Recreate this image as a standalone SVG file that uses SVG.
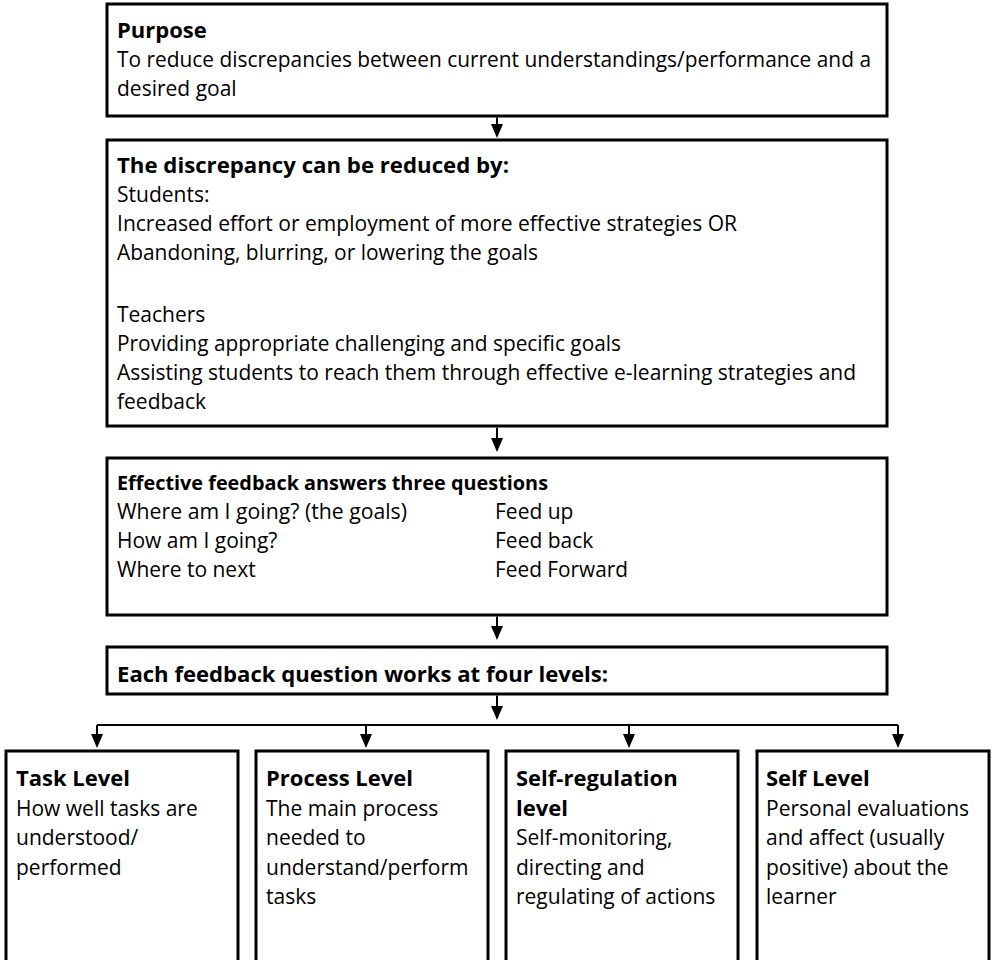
<svg xmlns="http://www.w3.org/2000/svg" width="992" height="960" viewBox="0 0 992 960">
<style>
.box{fill:#fff;stroke:#000;stroke-width:3}
.t{font-family:"Open Sans","Noto Sans",sans-serif;font-size:21px;fill:#000}
.b{font-weight:bold;font-size:22px}
.c{stroke:#000;stroke-width:2;fill:none}
.h{fill:#000}
</style>
<defs>
<polygon id="ah" points="-6,-14 6,-14 0,0"/>
</defs>
<rect width="992" height="960" fill="#fff"/>
<g id="purpose">
<rect class="box" x="107" y="4" width="780" height="112"/>
<text class="t b" x="117" y="38">Purpose</text>
<text class="t" x="117" y="67" textLength="754" lengthAdjust="spacingAndGlyphs">To reduce discrepancies between current understandings/performance and a</text>
<text class="t" x="117" y="96">desired goal</text>
</g>
<g id="discrepancy">
<rect class="box" x="107" y="140" width="780" height="286"/>
<text class="t b" x="117" y="173" textLength="392" lengthAdjust="spacingAndGlyphs">The discrepancy can be reduced by:</text>
<text class="t" x="117" y="202">Students:</text>
<text class="t" x="117" y="231" textLength="620" lengthAdjust="spacingAndGlyphs">Increased effort or employment of more effective strategies OR</text>
<text class="t" x="117" y="260" textLength="421" lengthAdjust="spacingAndGlyphs">Abandoning, blurring, or lowering the goals</text>
<text class="t" x="117" y="322">Teachers</text>
<text class="t" x="117" y="351" textLength="504" lengthAdjust="spacingAndGlyphs">Providing appropriate challenging and specific goals</text>
<text class="t" x="117" y="380" textLength="739" lengthAdjust="spacingAndGlyphs">Assisting students to reach them through effective e-learning strategies and</text>
<text class="t" x="117" y="409">feedback</text>
</g>
<g id="questions">
<rect class="box" x="107" y="458" width="780" height="157"/>
<text class="t b" x="117" y="490" style="font-size:20px" textLength="431" lengthAdjust="spacingAndGlyphs">Effective feedback answers three questions</text>
<text class="t" x="117" y="519" textLength="290" lengthAdjust="spacingAndGlyphs">Where am I going? (the goals)</text>
<text class="t" x="117" y="548">How am I going?</text>
<text class="t" x="117" y="577">Where to next</text>
<text class="t" x="495" y="519">Feed up</text>
<text class="t" x="495" y="548">Feed back</text>
<text class="t" x="495" y="577" textLength="133" lengthAdjust="spacingAndGlyphs">Feed Forward</text>
</g>
<g id="levels">
<rect class="box" x="107" y="647" width="780" height="47"/>
<text class="t b" x="117" y="682" textLength="491" lengthAdjust="spacingAndGlyphs">Each feedback question works at four levels:</text>
</g>
<g id="task">
<rect class="box" x="6" y="751" width="232" height="220"/>
<text class="t b" x="16" y="786">Task Level</text>
<text class="t" x="16" y="815.5">How well tasks are</text>
<text class="t" x="16" y="845">understood/</text>
<text class="t" x="16" y="874.5">performed</text>
</g>
<g id="process">
<rect class="box" x="256" y="751" width="232" height="220"/>
<text class="t b" x="266" y="786">Process Level</text>
<text class="t" x="266" y="815.5">The main process</text>
<text class="t" x="266" y="845">needed to</text>
<text class="t" x="266" y="874.5">understand/perform</text>
<text class="t" x="266" y="904">tasks</text>
</g>
<g id="selfreg">
<rect class="box" x="506" y="751" width="232" height="220"/>
<text class="t b" x="516" y="786">Self-regulation</text>
<text class="t b" x="516" y="815.5">level</text>
<text class="t" x="516" y="845">Self-monitoring,</text>
<text class="t" x="516" y="874.5">directing and</text>
<text class="t" x="516" y="904">regulating of actions</text>
</g>
<g id="self">
<rect class="box" x="757" y="751" width="232" height="220"/>
<text class="t b" x="766" y="786">Self Level</text>
<text class="t" x="766" y="815.5">Personal evaluations</text>
<text class="t" x="766" y="845">and affect (usually</text>
<text class="t" x="766" y="874.5">positive) about the</text>
<text class="t" x="766" y="904">learner</text>
</g>
<g id="connectors">
<path class="c" d="M497,117.5V126 M497,427.5V438 M497,616.5V626 M497,695.5V706 M97,725H898 M97,725V735 M366,725V735 M629,725V735 M898,725V735"/>
<use href="#ah" class="h" x="497" y="138"/>
<use href="#ah" class="h" x="497" y="452"/>
<use href="#ah" class="h" x="497" y="640"/>
<use href="#ah" class="h" x="497" y="720"/>
<use href="#ah" class="h" x="97" y="748"/>
<use href="#ah" class="h" x="366" y="748"/>
<use href="#ah" class="h" x="629" y="748"/>
<use href="#ah" class="h" x="898" y="748"/>
</g>
</svg>
